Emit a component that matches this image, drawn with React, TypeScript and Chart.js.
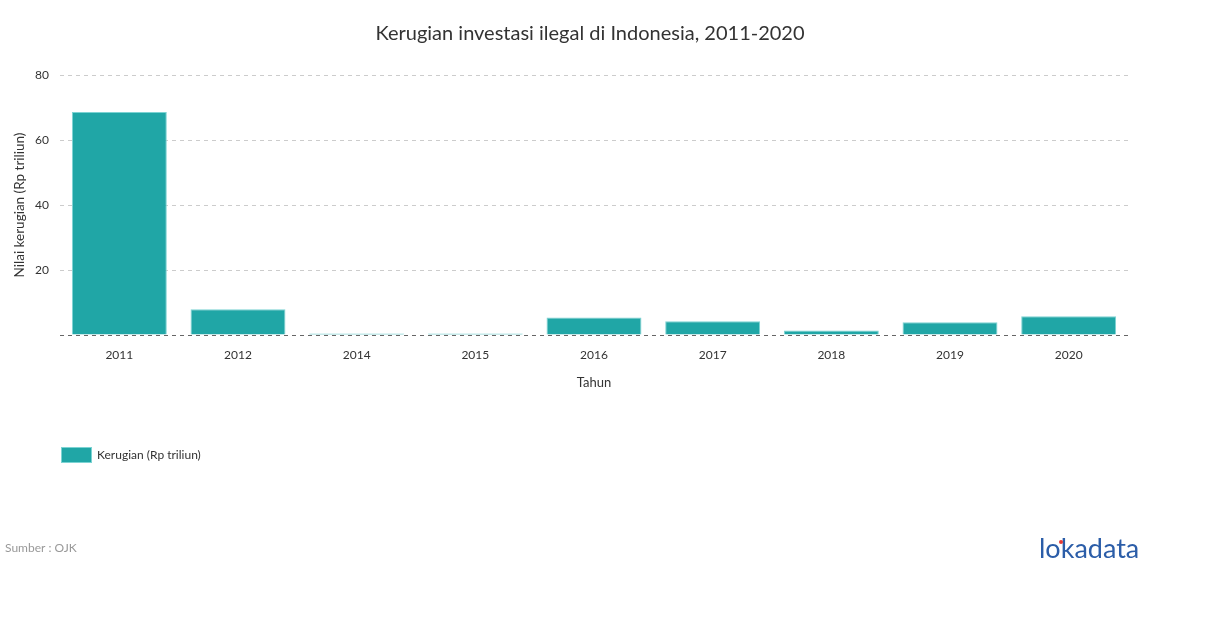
import React, { useEffect, useRef } from "react";
import { Chart, registerables } from "chart.js";

Chart.register(...registerables);

const categories = ["2011", "2012", "2014", "2015", "2016", "2017", "2018", "2019", "2020"];
const losses = [68.6, 7.9, 0.5, 0.5, 5.4, 4.2, 1.4, 3.9, 5.8];
const yTicks = [0, 20, 40, 60, 80];
const seriesLabel = "Kerugian (Rp triliun)";
const titleText = "Kerugian investasi ilegal di Indonesia, 2011-2020";
const sourceText = "Sumber : OJK";

const BAR = "#20a6a6";
const BAR_EDGE = "#7cd3d3";
const FONT = "Lato, 'Open Sans', sans-serif";

const overlayPlugin = {
  id: "overlay",
  afterDraw(chart: any) {
    const ctx = chart.ctx;
    ctx.save();
    // title
    ctx.fillStyle = "#333";
    ctx.font = `20px ${FONT}`;
    ctx.textAlign = "center";
    ctx.textBaseline = "middle";
    ctx.fillText(titleText, 590, 33.5);
    // legend
    const ds = chart.data.datasets[0];
    ctx.fillStyle = ds.backgroundColor;
    ctx.fillRect(61, 447, 31, 16);
    ctx.strokeStyle = ds.borderColor;
    ctx.lineWidth = 1;
    ctx.strokeRect(61.5, 447.5, 30, 15);
    ctx.fillStyle = "#333";
    ctx.font = `12px ${FONT}`;
    ctx.textAlign = "left";
    ctx.fillText(ds.label, 97, 455.5);
    // source
    ctx.fillStyle = "#999";
    ctx.font = `12px ${FONT}`;
    ctx.fillText(sourceText, 5, 548);
    // logo
    ctx.fillStyle = "#2b5da8";
    ctx.font = `27px ${FONT}`;
    ctx.textAlign = "left";
    ctx.fillText("lokadata", 1039, 549);
    ctx.fillStyle = "#e53935";
    ctx.beginPath();
    ctx.arc(1061, 542, 2, 0, Math.PI * 2);
    ctx.fill();
    ctx.restore();
  },
};

export default function App() {
  const ref = useRef<HTMLCanvasElement>(null);
  useEffect(() => {
    if (!ref.current) return;
    const chart = new Chart(ref.current, {
      type: "bar",
      data: {
        labels: categories,
        datasets: [
          {
            label: seriesLabel,
            data: losses,
            backgroundColor: BAR,
            borderColor: BAR_EDGE,
            borderWidth: 1,
            categoryPercentage: 0.8,
            barPercentage: 1,
          },
        ],
      },
      options: {
        animation: false,
        responsive: false,
        maintainAspectRatio: false,
        layout: { padding: { left: 8, right: 82, top: 75, bottom: 233 } },
        plugins: {
          legend: { display: false },
          title: { display: false },
          tooltip: { enabled: false },
        },
        scales: {
          x: {
            grid: { display: false, drawTicks: false },
            border: { display: false },
            ticks: { color: "#333", font: { family: FONT, size: 12 }, padding: 13, maxRotation: 0 },
            title: {
              display: true,
              text: "Tahun",
              color: "#333",
              font: { family: FONT, size: 13 },
              padding: { top: 0, bottom: 4 },
            },
            afterFit(scale: any) {
              scale.height = 60;
            },
          },
          y: {
            min: 0,
            max: 80,
            afterBuildTicks(scale: any) {
              scale.ticks = yTicks.map((v) => ({ value: v }));
            },
            grid: {
              drawTicks: false,
              color: (c: any) => (c.tick && c.tick.value === 0 ? "#666" : "#ccc"),
              lineWidth: 1,
            },
            border: { display: false, dash: [4, 4] },
            ticks: {
              color: "#333",
              font: { family: FONT, size: 12 },
              padding: 11,
              callback: (v: any) => (v === 0 ? "" : String(v)),
            },
            title: {
              display: true,
              text: "Nilai kerugian (Rp triliun)",
              color: "#333",
              font: { family: FONT, size: 13.5 },
              padding: { top: 4, bottom: 0 },
            },
            afterFit(scale: any) {
              scale.width = 52;
            },
          },
        },
      },
      plugins: [overlayPlugin],
    });
    return () => chart.destroy();
  }, []);
  return (
    <div style={{ position: "fixed", left: 0, top: 0, width: 1210, height: 628, background: "#fff" }}>
      <canvas ref={ref} width={1210} height={628} style={{ width: 1210, height: 628 }} />
    </div>
  );
}
